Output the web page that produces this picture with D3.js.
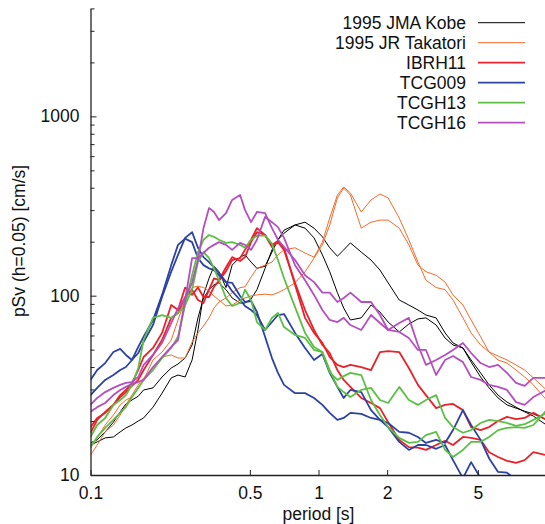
<!DOCTYPE html>
<html>
<head>
<meta charset="utf-8">
<script src="https://cdn.jsdelivr.net/npm/d3@7"></script>
<style>
body { margin: 0; background: #fff; }
svg text { font-family: "Liberation Sans", Arial, Helvetica, sans-serif; fill: #111; }
</style>
</head>
<body>
<script>
// periods [s] shared by every spectrum
var periods = [0.1, 0.107, 0.116, 0.126, 0.135, 0.143, 0.152, 0.162, 0.171, 0.188,
  0.206, 0.226, 0.242, 0.26, 0.279, 0.296, 0.313, 0.331, 0.348, 0.366,
  0.393, 0.418, 0.453, 0.476, 0.506, 0.537, 0.583, 0.625, 0.664, 0.706,
  0.789, 0.873, 0.956, 1.04, 1.12, 1.21, 1.29, 1.38, 1.54, 1.70,
  1.86, 2.02, 2.26, 2.49, 2.73, 2.96, 3.28, 3.59, 3.89, 4.30,
  4.67, 5.14, 5.60, 6.13, 6.71, 7.35, 8.02, 8.76, 10.0];

// pSv (h=0.05) [cm/s], two horizontal components per station
var kobeA = [14.7, 15.3, 16.1, 16.3, 17.4, 18.3, 19.0, 20.0, 20.8, 23.9, 28.6, 34.8, 36.1, 35.2, 43.8, 64.4, 101, 125, 146, 136,
  111, 148, 164, 169, 154, 142, 146, 175, 205, 232, 248, 238, 210, 169, 136, 104, 85.3, 73.2, 75.2, 88.7,
  81.1, 71.3, 62.8, 69.5, 74.2, 75.2, 68.6, 58.1, 53.1, 51.1, 42.6, 35.2, 30.6, 26.9, 24.6, 23.6, 22.7, 21.9, 20.3];
var kobeB = [15.1, 15.7, 17.4, 19.7, 22.5, 24.9, 26.2, 27.5, 29.8, 30.6, 35.2, 39.5, 41.6, 44.9, 53.1, 75.2, 97.1, 108, 115, 118,
  108, 97.1, 91.0, 91.0, 95.8, 108, 142, 180, 205, 223, 248, 257, 238, 213, 185, 166, 180, 197, 175, 158,
  139, 118, 94.6, 88.7, 83.2, 78.0, 75.2, 62.0, 54.5, 51.1, 43.8, 37.1, 31.8, 27.9, 25.5, 23.9, 22.5, 21.3, 19.0];
var takatoriA = [12.9, 14.7, 17.4, 19.0, 21.6, 24.6, 27.9, 31.8, 34.8, 38.5, 45.5, 46.7, 44.9, 44.9, 55.2, 62.0, 67.7, 75.2, 85.3, 92.2,
  97.1, 104, 111, 112, 127, 142, 148, 154, 169, 180, 185, 173, 164, 199, 271, 364, 404, 374, 293, 342,
  369, 351, 271, 205, 154, 122, 111, 108, 94.6, 75.2, 62.0, 53.1, 48.5, 46.1, 43.8, 41.1, 38.5, 34.8, 29.8];
var takatoriB = [14.2, 16.1, 19.0, 21.6, 24.6, 26.2, 27.2, 30.6, 33.9, 43.8, 48.5, 56.6, 73.2, 94.6, 111, 113, 111, 106, 99.6, 94.6,
  87.6, 88.7, 94.6, 97.1, 99.6, 101, 102, 101, 104, 108, 118, 136, 162, 192, 248, 351, 398, 364, 238, 257,
  264, 264, 238, 192, 148, 136, 130, 119, 101, 88.7, 73.2, 59.0, 48.5, 43.8, 42.1, 38.5, 35.2, 31.8, 26.2];
var ibrh11A = [18.5, 20.8, 22.2, 24.6, 27.9, 29.8, 32.6, 38.5, 45.5, 51.1, 62.0, 88.7, 83.2, 111, 101, 111, 98.3, 98.3, 112, 121,
  137, 158, 162, 180, 205, 238, 218, 192, 202, 185, 115, 75.2, 62.0, 54.5, 45.5, 41.1, 40.0, 41.1, 40.0, 38.5,
  48.5, 49.1, 48.5, 39.5, 31.8, 27.9, 23.6, 24.6, 24.9, 23.0, 18.5, 17.8, 18.5, 20.0, 21.1, 20.5, 20.8, 22.2, 20.3];
var ibrh11B = [17.2, 20.3, 22.5, 24.6, 27.2, 29.0, 31.4, 33.9, 38.5, 46.7, 56.6, 75.2, 80.1, 98.3, 108, 94.6, 91.0, 108, 125, 122,
  144, 164, 156, 164, 199, 226, 218, 187, 199, 180, 118, 83.2, 64.4, 53.1, 47.9, 38.5, 33.9, 31.0, 26.9, 25.2,
  23.6, 19.7, 15.7, 14.3, 14.2, 13.8, 14.7, 15.5, 14.7, 16.3, 16.1, 15.7, 13.4, 12.6, 12.0, 11.7, 12.1, 13.4, 12.9];
var tcg009A = [33.9, 38.5, 42.1, 48.5, 50.5, 46.7, 43.8, 47.9, 55.2, 68.6, 98.3, 136, 169, 210, 226, 185, 164, 154, 144, 134,
  119, 106, 94.6, 87.6, 83.2, 78.0, 64.4, 71.3, 78.0, 79.0, 62.0, 51.1, 43.8, 47.3, 37.1, 31.0, 26.9, 29.8, 29.0, 23.0,
  20.3, 19.5, 17.4, 17.2, 16.3, 15.1, 15.7, 15.1, 17.8, 23.0, 19.0, 15.7, 12.4, 10.4, 10.3, 9.4, 8.2, 7.7, 7.2];
var tcg009B = [27.9, 30.6, 33.9, 36.1, 38.5, 40.0, 43.8, 51.8, 59.0, 73.2, 101, 148, 192, 208, 199, 162, 148, 142, 139, 130,
  119, 118, 99.6, 92.2, 93.4, 81.1, 59.0, 44.9, 37.1, 31.8, 28.6, 28.6, 26.9, 24.6, 22.2, 20.3, 20.8, 22.2, 21.9, 20.8,
  20.3, 18.5, 15.3, 13.8, 14.7, 14.7, 14.0, 14.7, 12.1, 9.6, 11.8, 9.6, 8.2, 7.7, 7.2, 6.8, 6.4, 6.0, 5.6];
var tcgh13A = [14.3, 16.3, 18.3, 20.3, 22.2, 23.9, 27.2, 30.6, 33.9, 38.5, 44.9, 51.1, 59.0, 88.7, 130, 175, 205, 218, 213, 205,
  197, 199, 192, 185, 205, 216, 216, 195, 158, 125, 86.4, 62.0, 51.8, 48.5, 37.4, 33.9, 35.6, 37.1, 36.1, 26.2,
  21.6, 18.5, 16.1, 15.1, 15.3, 16.7, 17.4, 13.8, 12.6, 13.8, 15.3, 15.3, 16.3, 17.8, 18.3, 18.5, 18.3, 19.0, 23.0];
var tcgh13B = [16.3, 19.0, 20.8, 24.6, 26.2, 27.9, 31.8, 39.5, 56.6, 75.2, 78.0, 75.2, 80.1, 88.7, 108, 154, 175, 162, 142, 122,
  97.1, 87.6, 91.0, 108, 94.6, 71.3, 64.4, 75.2, 80.1, 66.8, 60.4, 58.1, 49.8, 48.5, 38.5, 31.0, 29.0, 27.2, 29.8, 30.6,
  26.2, 25.2, 31.0, 26.2, 24.6, 26.2, 27.9, 20.8, 18.5, 17.2, 17.8, 19.5, 20.3, 20.0, 19.5, 18.8, 19.2, 20.3, 22.2];
var tcgh16A = [24.6, 26.9, 29.0, 30.6, 31.8, 32.6, 33.0, 35.2, 41.1, 46.7, 54.5, 70.4, 85.3, 97.1, 118, 158, 238, 308, 293, 264,
  289, 342, 364, 301, 257, 293, 289, 238, 205, 187, 158, 130, 119, 104, 104, 92.2, 97.1, 104, 92.2, 92.2,
  78.0, 64.4, 70.4, 75.2, 53.1, 41.1, 43.8, 46.7, 49.8, 54.5, 47.9, 42.1, 40.0, 41.1, 37.1, 32.6, 31.4, 34.8, 34.8];
var tcgh16B = [22.5, 23.9, 25.2, 27.9, 29.8, 31.0, 32.2, 33.0, 33.9, 40.0, 45.5, 51.8, 56.6, 94.6, 162, 162, 173, 185, 192, 199,
  192, 180, 197, 192, 180, 205, 275, 257, 241, 210, 148, 122, 101, 83.2, 73.2, 71.3, 75.2, 68.6, 64.4, 78.0,
  70.4, 64.4, 62.8, 58.1, 49.8, 49.8, 36.1, 43.8, 46.1, 42.6, 35.2, 33.9, 31.8, 31.0, 29.8, 25.5, 24.6, 27.2, 29.8];

var stationNames = ['1995 JMA Kobe', '1995 JR Takatori', 'IBRH11', 'TCG009', 'TCGH13', 'TCGH16'];
var yMajorTicks = [10, 100, 1000];
var yMinorTicks = [20, 30, 40, 50, 60, 70, 80, 90, 200, 300, 400, 500, 600, 700, 800, 900, 2000, 3000, 4000];
var xTicks = [0.1, 0.5, 1, 2, 5];

var width = 545;
var height = 524;
var margin = {top: 8.4, right: 0, bottom: 49, left: 90.5};
var colors = ['#000000', '#f26b2a', '#e8222b', '#2c43a2', '#5cbf45', '#b44fbf'];
var widths = [1, 1, 1.8, 1.8, 1.8, 1.8];

var stations = [
  {name: stationNames[0], comps: [kobeA, kobeB]},
  {name: stationNames[1], comps: [takatoriA, takatoriB]},
  {name: stationNames[2], comps: [ibrh11A, ibrh11B]},
  {name: stationNames[3], comps: [tcg009A, tcg009B]},
  {name: stationNames[4], comps: [tcgh13A, tcgh13B]},
  {name: stationNames[5], comps: [tcgh16A, tcgh16B]}
];

var x = d3.scaleLog().domain([0.1, 10]).range([margin.left, 546.5]);
var y = d3.scaleLog().domain([10, 4000]).range([height - margin.bottom, margin.top]);

var svg = d3.select('body')
  .append('svg')
  .attr('width', width)
  .attr('height', height);

svg.append('clipPath')
  .attr('id', 'plot-area')
  .append('rect')
  .attr('x', margin.left)
  .attr('y', margin.top)
  .attr('width', width - margin.left)
  .attr('height', y.range()[0] - margin.top);

var line = d3.line()
  .x(function (d, i) { return x(periods[i]); })
  .y(function (d) { return y(d); });

var plot = svg.append('g').attr('clip-path', 'url(#plot-area)');

stations.forEach(function (s, k) {
  s.comps.forEach(function (values) {
    plot.append('path')
      .datum(values)
      .attr('fill', 'none')
      .attr('stroke', colors[k])
      .attr('stroke-width', widths[k])
      .attr('stroke-linejoin', 'round')
      .attr('d', line);
  });
});

// y axis: major ticks with labels, minor ticks without
var yAxis = svg.append('g')
  .attr('transform', 'translate(' + margin.left + ',0)')
  .call(d3.axisLeft(y).tickValues(yMajorTicks).tickSizeInner(-6).tickSizeOuter(0)
    .tickPadding(11).tickFormat(d3.format('d')));
svg.append('g')
  .attr('transform', 'translate(' + margin.left + ',0)')
  .call(d3.axisLeft(y).tickValues(yMinorTicks).tickSizeInner(-4).tickSizeOuter(0).tickFormat(''))
  .select('.domain').remove();

var xAxis = svg.append('g')
  .attr('transform', 'translate(0,' + y.range()[0] + ')')
  .call(d3.axisBottom(x).tickValues(xTicks).tickSizeInner(-5).tickSizeOuter(0)
    .tickPadding(12).tickFormat(function (d) { return String(d); }));

svg.selectAll('.domain').attr('stroke', '#222').attr('stroke-width', 1.3);
svg.selectAll('.tick line').attr('stroke', '#222').attr('stroke-width', 1);
svg.selectAll('.tick text').attr('font-size', 17.5).attr('fill', '#111');
yAxis.attr('font-family', null);
xAxis.attr('font-family', null);

svg.append('text')
  .attr('x', x(1))
  .attr('y', 519.5)
  .attr('text-anchor', 'middle')
  .attr('font-size', 17.5)
  .text('period [s]');

svg.append('text')
  .attr('transform', 'translate(25,' + 241 + ') rotate(-90)')
  .attr('text-anchor', 'middle')
  .attr('font-size', 17.5)
  .text('pSv (h=0.05) [cm/s]');

var legend = svg.append('g').attr('class', 'legend');
var rows = legend.selectAll('g')
  .data(stations)
  .enter().append('g')
  .attr('transform', function (d, i) { return 'translate(0,' + (22.7 + i * 20) + ')'; });

rows.append('text')
  .attr('x', 466)
  .attr('dy', 6.5)
  .attr('text-anchor', 'end')
  .attr('font-size', 17.5)
  .text(function (d) { return d.name; });

rows.append('line')
  .attr('x1', 478)
  .attr('x2', 525)
  .attr('stroke', function (d, i) { return colors[i]; })
  .attr('stroke-width', function (d, i) { return widths[i]; });
</script>
</body>
</html>
